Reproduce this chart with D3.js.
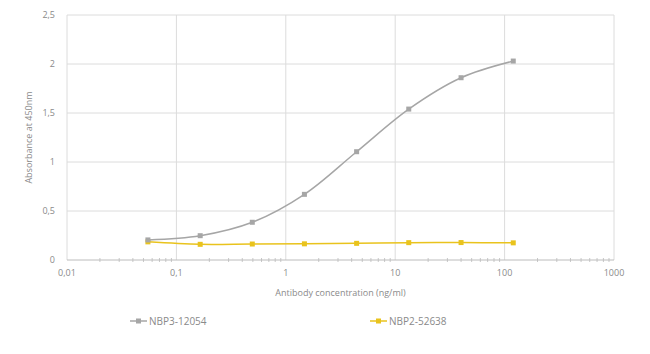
<!DOCTYPE html>
<html>
<head>
<meta charset="utf-8">
<script src="https://cdn.jsdelivr.net/npm/d3@7"></script>
<style>
  body { margin: 0; background: #fff; }
  text { font-family: "Open Sans", "Liberation Sans", sans-serif; fill: #8a8a8a; }
</style>
</head>
<body>
<div id="chart"></div>
<script>
// concentrations (ng/ml) and absorbance readings
var concentrations = [0.0549, 0.165, 0.494, 1.48, 4.44, 13.3, 40, 120];
var seriesNames = ["NBP3-12054", "NBP2-52638"];
var valuesNbp3 = [0.205, 0.248, 0.385, 0.67, 1.105, 1.54, 1.86, 2.03];
var valuesNbp2 = [0.185, 0.16, 0.163, 0.165, 0.17, 0.177, 0.178, 0.175];
var xTicks = [0.01, 0.1, 1, 10, 100, 1000];
var xTickLabels = ["0,01", "0,1", "1", "10", "100", "1000"];
var yTicks = [0, 0.5, 1, 1.5, 2, 2.5];
var yTickLabels = ["0", "0,5", "1", "1,5", "2", "2,5"];
var colors = ["#a6a6a6", "#e9c31d"];

var width = 650, height = 354;
var margin = { top: 15, right: 36, bottom: 94, left: 67 };

var svg = d3.select("#chart")
    .append("svg")
    .attr("width", width)
    .attr("height", height);

var g = svg.append("g")
    .attr("transform", "translate(" + margin.left + "," + margin.top + ")");

var w = width - margin.left - margin.right,
    h = height - margin.top - margin.bottom;

var x = d3.scaleLog().domain([0.01, 1000]).range([0, w]);
var y = d3.scaleLinear().domain([0, 2.5]).range([h, 0]);

// horizontal gridlines
g.selectAll(".hgrid")
    .data(yTicks.slice(1))
    .enter().append("line")
    .attr("x1", 0).attr("x2", w)
    .attr("y1", function (d) { return y(d); })
    .attr("y2", function (d) { return y(d); })
    .attr("stroke", "#dcdcdc").attr("stroke-width", 1);

// vertical gridlines
g.selectAll(".vgrid")
    .data(xTicks)
    .enter().append("line")
    .attr("x1", function (d) { return x(d); })
    .attr("x2", function (d) { return x(d); })
    .attr("y1", 0).attr("y2", h)
    .attr("stroke", "#dcdcdc").attr("stroke-width", 1);

// minor ticks on the x axis
var minor = [];
xTicks.slice(0, -1).forEach(function (t) {
    for (var k = 2; k <= 9; k++) minor.push(t * k);
});
g.selectAll(".minor")
    .data(minor)
    .enter().append("line")
    .attr("x1", function (d) { return x(d); })
    .attr("x2", function (d) { return x(d); })
    .attr("y1", h - 2).attr("y2", h + 2)
    .attr("stroke", "#c8c8c8").attr("stroke-width", 1);

// x axis line
g.append("line")
    .attr("x1", 0).attr("x2", w)
    .attr("y1", h).attr("y2", h)
    .attr("stroke", "#bcbcbc").attr("stroke-width", 1);

// tick labels
g.selectAll(".xlab")
    .data(xTicks)
    .enter().append("text")
    .attr("x", function (d) { return x(d); })
    .attr("y", h + 16)
    .attr("text-anchor", "middle")
    .attr("font-size", 9)
    .text(function (d, i) { return xTickLabels[i]; });

g.selectAll(".ylab")
    .data(yTicks)
    .enter().append("text")
    .attr("x", -12)
    .attr("y", function (d) { return y(d) + 3; })
    .attr("text-anchor", "end")
    .attr("font-size", 9)
    .text(function (d, i) { return yTickLabels[i]; });

// axis titles
g.append("text")
    .attr("x", w / 2)
    .attr("y", h + 36)
    .attr("text-anchor", "middle")
    .attr("font-size", 9)
    .text("Antibody concentration (ng/ml)");

g.append("text")
    .attr("transform", "translate(" + (-35) + "," + (h / 2) + ") rotate(-90)")
    .attr("text-anchor", "middle")
    .attr("font-size", 9)
    .text("Absorbance at 450nm");

// series
var allSeries = [valuesNbp3, valuesNbp2].map(function (vals, i) {
    return {
        name: seriesNames[i],
        color: colors[i],
        points: concentrations.map(function (c, j) { return [c, vals[j]]; })
    };
});

var line = d3.line()
    .curve(d3.curveCatmullRom.alpha(0.5))
    .x(function (d) { return x(d[0]); })
    .y(function (d) { return y(d[1]); });

allSeries.slice().reverse().forEach(function (s) {
    g.append("path")
        .datum(s.points)
        .attr("fill", "none")
        .attr("stroke", s.color)
        .attr("stroke-width", 1.5)
        .attr("d", line);
    g.selectAll(null)
        .data(s.points)
        .enter().append("rect")
        .attr("x", function (d) { return x(d[0]) - 2.5; })
        .attr("y", function (d) { return y(d[1]) - 2.5; })
        .attr("width", 5).attr("height", 5)
        .attr("fill", s.color);
});

// legend
var legendX = [130, 370];
var legend = svg.selectAll(".legend")
    .data(allSeries)
    .enter().append("g")
    .attr("transform", function (d, i) { return "translate(" + legendX[i] + ",321)"; });
legend.append("line")
    .attr("x1", 0).attr("x2", 17)
    .attr("stroke", function (d) { return d.color; })
    .attr("stroke-width", 1.5);
legend.append("rect")
    .attr("x", 6).attr("y", -2.5)
    .attr("width", 5).attr("height", 5)
    .attr("fill", function (d) { return d.color; });
legend.append("text")
    .attr("x", 19).attr("y", 3.5)
    .attr("font-size", 10)
    .text(function (d) { return d.name; });
</script>
</body>
</html>
